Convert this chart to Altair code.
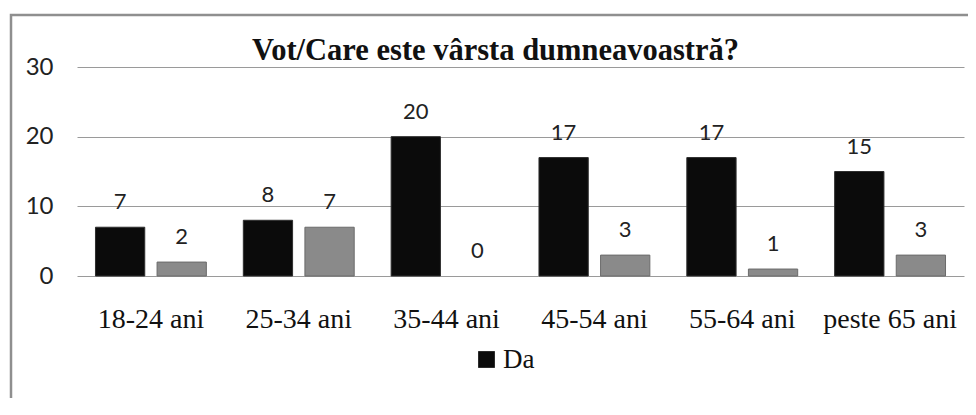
import altair as alt
import pandas as pd

# ---- data ----
categories = ["18-24 ani", "25-34 ani", "35-44 ani", "45-54 ani", "55-64 ani", "peste 65 ani"]
series_names = ["Da", "Nu"]
da_values = [7, 8, 20, 17, 17, 15]
nu_values = [2, 7, 0, 3, 1, 3]
y_ticks = [0, 10, 20, 30]
title_text = "Vot/Care este vârsta dumneavoastră?"

rows = []
for c, d, n in zip(categories, da_values, nu_values):
    rows.append({"categorie": c, "serie": series_names[0], "valoare": d})
    rows.append({"categorie": c, "serie": series_names[1], "valoare": n})
df = pd.DataFrame(rows)

W, H = 887, 209
SERIF = "Liberation Serif"
SANS = "Lato"

x_enc = alt.X(
    "categorie:N", sort=categories,
    scale=alt.Scale(paddingInner=0.25, paddingOuter=0.125),
    axis=alt.Axis(title=None, labelAngle=0, ticks=False, domain=False, grid=False,
                  labelFont=SERIF, labelFontSize=28, labelColor="#111111", labelPadding=29),
)
xoff_enc = alt.XOffset("serie:N", sort=series_names,
                       scale=alt.Scale(paddingInner=0.2, paddingOuter=0))
y_enc = alt.Y(
    "valoare:Q", scale=alt.Scale(domain=[0, 30], nice=False),
    axis=alt.Axis(title=None, values=y_ticks, ticks=False, domain=False,
                  labelFont=SANS, labelFontSize=24, labelColor="#222222", labelPadding=24,
                  gridColor="#9a9a9a", gridWidth=1),
)

border = alt.Chart(pd.DataFrame({"k": [0]})).mark_rect(
    filled=False, stroke="#8f8f8f", strokeWidth=2.5
).encode(x=alt.value(-66), x2=alt.value(1100), y=alt.value(-52), y2=alt.value(600))

bars = alt.Chart(df).mark_bar(strokeWidth=1).encode(
    x=x_enc, xOffset=xoff_enc, y=y_enc,
    color=alt.Color("serie:N", sort=series_names,
                    scale=alt.Scale(domain=series_names, range=["#0b0b0b", "#8a8a8a"]),
                    legend=alt.Legend(title=None, orient="none", legendX=396, legendY=279,
                                      values=["Da"], symbolType="square", symbolSize=280,
                                      symbolStrokeWidth=0, labelOffset=3, padding=0,
                                      labelFont=SERIF, labelFontSize=27, labelColor="#111111")),
    stroke=alt.Stroke("serie:N", scale=alt.Scale(domain=series_names, range=["#2e2e2e", "#6b6b6b"]),
                      legend=None),
    strokeOpacity=alt.condition(alt.datum.valoare > 0, alt.value(1), alt.value(0)),
)

labels = alt.Chart(df).mark_text(
    font=SANS, fontSize=22, color="#222222", baseline="alphabetic", dy=-18
).encode(x=x_enc, xOffset=xoff_enc, y=y_enc, text="valoare:Q")

chart = alt.layer(border, bars, labels).properties(
    width=W, height=H, background="white",
    title=alt.TitleParams(title_text, font=SERIF, fontSize=30.5, fontWeight="bold",
                          color="#111111", anchor="middle", frame="group", dx=-25, offset=0,
                          baseline="alphabetic", dy=77),
    padding={"left": 69, "top": 59, "right": 4, "bottom": 122},
    autosize=alt.AutoSizeParams(type="none"),
).configure_view(
    stroke=None
).configure_axisX(
    labelFont=SERIF, labelFontSize=28, labelColor="#111111", labelPadding=29
).configure_axisY(
    labelFont=SANS, labelFontSize=24, labelColor="#222222", labelPadding=24
).configure_legend(
    labelFont=SERIF, labelFontSize=27, labelColor="#111111"
)

chart.save("out.html", embed_options={"renderer": "svg", "actions": False})
